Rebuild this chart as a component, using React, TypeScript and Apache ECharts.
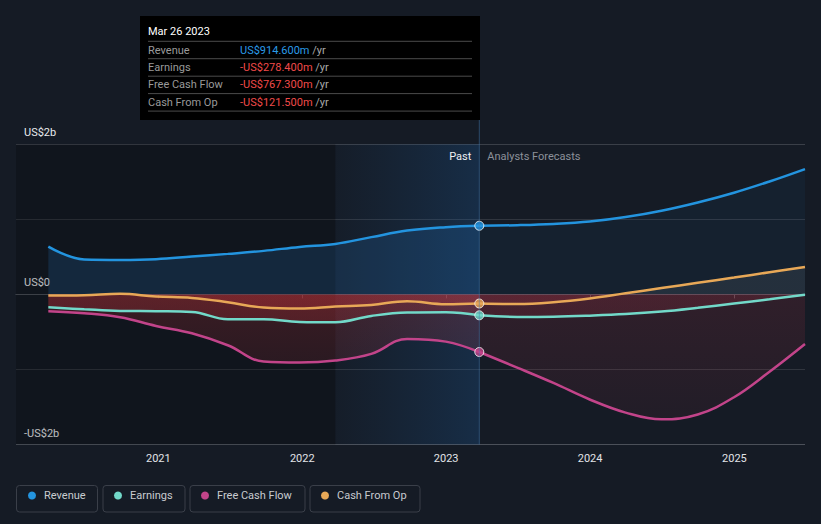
import React, { useEffect, useRef } from 'react';
import * as echarts from 'echarts';

// ---------- data (values in US$ billions) ----------
const pastDates = ['2020-03-28', '2020-06-27', '2020-09-26', '2020-12-26', '2021-03-27', '2021-06-26', '2021-09-25', '2021-12-25', '2022-03-26', '2022-06-25', '2022-09-24', '2022-12-31', '2023-03-26'];
const forecastDates = ['2023-06-30', '2023-09-30', '2023-12-31', '2024-03-31', '2024-06-30', '2024-09-30', '2024-12-31', '2025-03-31', '2025-06-29'];

const revenuePast = [0.637, 0.466, 0.46, 0.469, 0.504, 0.54, 0.58, 0.633, 0.673, 0.763, 0.85, 0.896, 0.9146];
const revenueForecast = [0.922, 0.938, 0.97, 1.03, 1.115, 1.225, 1.355, 1.505, 1.67];

const earningsPast = [-0.171, -0.198, -0.22, -0.224, -0.233, -0.331, -0.331, -0.367, -0.371, -0.287, -0.242, -0.238, -0.2784];
const earningsForecast = [-0.3, -0.297, -0.283, -0.262, -0.228, -0.178, -0.122, -0.065, -0.005];

const fcfPast = [-0.224, -0.251, -0.304, -0.42, -0.518, -0.678, -0.895, -0.909, -0.882, -0.793, -0.593, -0.629, -0.7673];
const fcfForecast = [-0.975, -1.18, -1.4, -1.575, -1.665, -1.6, -1.37, -1.03, -0.66];

const cfoPast = [-0.015, -0.011, 0.007, -0.029, -0.047, -0.104, -0.176, -0.189, -0.162, -0.14, -0.091, -0.131, -0.1215];
const cfoForecast = [-0.128, -0.105, -0.055, 0.015, 0.085, 0.155, 0.225, 0.295, 0.365];

const seriesNames = ['Revenue', 'Earnings', 'Free Cash Flow', 'Cash From Op'];
const yTickLabels: Record<string, string> = { '2': 'US$2b', '0': 'US$0', '-2': '-US$2b' };
const axisStart = '2020-01-06';
const axisEnd = '2025-06-29';
const highlightStart = '2022-03-26';
const pastEnd = '2023-03-26';
const pastLabel = 'Past';
const forecastLabel = 'Analysts Forecasts';

// ---------- styling ----------
const W = 821;
const H = 524;
const BG = '#151b25';
const FONT = 'Roboto';
const colors = {
  Revenue: '#2394df',
  Earnings: '#72d9c9',
  'Free Cash Flow': '#c2448a',
  'Cash From Op': '#e8a857',
} as Record<string, string>;
const GRID = { left: 16, right: 16, top: 144.3, bottom: 79.5 };
const zeroY = GRID.top + (H - GRID.top - GRID.bottom) / 2;
const bottomY = H - GRID.bottom;

const t = (s: string) => echarts.number.parseDate(s).getTime();

function fill(pos: string, negTop: string, negBottom: string) {
  return new echarts.graphic.LinearGradient(0, 0, 0, H, [
    { offset: 0, color: pos },
    { offset: zeroY / H, color: pos },
    { offset: zeroY / H, color: negTop },
    { offset: bottomY / H, color: negBottom },
    { offset: 1, color: negBottom },
  ], true);
}

const fmtMoney = (v: number) => (v < 0 ? '-' : '') + 'US$' + (Math.abs(v) * 1000).toFixed(3) + 'm';
const months = ['Jan', 'Feb', 'Mar', 'Apr', 'May', 'Jun', 'Jul', 'Aug', 'Sep', 'Oct', 'Nov', 'Dec'];
const fmtDate = (s: string) => {
  const d = echarts.number.parseDate(s);
  return `${months[d.getMonth()]} ${d.getDate()} ${d.getFullYear()}`;
};

export default function App() {
  const ref = useRef<HTMLDivElement>(null);

  useEffect(() => {
    document.body.style.margin = '0';
    document.body.style.background = BG;
    const chart = echarts.init(ref.current!, null, { renderer: 'svg' });

    const pastSets: Record<string, number[]> = {
      Revenue: revenuePast,
      Earnings: earningsPast,
      'Free Cash Flow': fcfPast,
      'Cash From Op': cfoPast,
    };
    const fcSets: Record<string, number[]> = {
      Revenue: revenueForecast,
      Earnings: earningsForecast,
      'Free Cash Flow': fcfForecast,
      'Cash From Op': cfoForecast,
    };

    const drawOrder = ['Revenue', 'Free Cash Flow', 'Earnings', 'Cash From Op'];
    const lineSeries: any[] = [];
    drawOrder.forEach((name) => {
      const past = pastSets[name];
      const fc = fcSets[name];
      const pastData = pastDates.map((d, i) => [d, past[i]]);
      const fcData = [[pastEnd, past[past.length - 1]]].concat(forecastDates.map((d, i) => [d, fc[i]]));
      const isRev = name === 'Revenue';
      const common = {
        type: 'line',
        name,
        smooth: 0.4,
        symbol: 'none',
        silent: true,
        z: 2,
        color: colors[name],
        lineStyle: { width: 2.5, color: colors[name] },
        emphasis: { disabled: true },
      };
      lineSeries.push({
        ...common,
        data: pastData,
        areaStyle: {
          color: isRev
            ? 'rgba(35,120,200,0.27)'
            : fill('rgba(200,205,205,0.12)', 'rgba(220,55,60,0.3)', 'rgba(215,55,65,0.05)'),
        },
      });
      lineSeries.push({
        ...common,
        data: fcData,
        areaStyle: {
          color: isRev
            ? 'rgba(35,120,200,0.09)'
            : fill('rgba(200,205,205,0.12)', 'rgba(215,55,75,0.2)', 'rgba(215,55,75,0.07)'),
        },
      });
    });

    const markerSeries = {
      type: 'scatter',
      silent: true,
      z: 5,
      symbol: 'circle',
      symbolSize: 9,
      data: seriesNames.map((name) => ({
        value: [pastEnd, pastSets[name][pastSets[name].length - 1]],
        itemStyle: { color: colors[name], borderColor: '#ffffff', borderWidth: 1 },
      })),
    };

    const regionSeries = {
      type: 'line',
      silent: true,
      z: 1,
      data: [],
      markArea: {
        silent: true,
        data: [
          [{ xAxis: t(axisStart), itemStyle: { color: 'rgba(0,0,0,0.2)' } }, { xAxis: t(highlightStart) }],
          [
            {
              xAxis: t(highlightStart),
              itemStyle: {
                color: new echarts.graphic.LinearGradient(0, 0, 1, 0, [
                  { offset: 0, color: 'rgba(30,100,170,0.03)' },
                  { offset: 1, color: 'rgba(30,110,190,0.22)' },
                ]),
              },
            },
            { xAxis: t(pastEnd) },
          ],
        ],
      },
    };

    const legendDotX = [32, 118, 205, 325];
    const legendBoxes = [
      [16, 485, 81, 26.5],
      [102.5, 485, 82, 26.5],
      [189.5, 485, 115, 26.5],
      [309.5, 485, 110, 26.5],
    ];

    chart.setOption({
      animation: false,
      backgroundColor: BG,
      textStyle: { fontFamily: FONT },
      grid: GRID,
      xAxis: {
        type: 'time',
        min: t(axisStart),
        max: t(axisEnd),
        minInterval: 365 * 24 * 3600 * 1000,
        splitNumber: 6,
        axisLine: { lineStyle: { color: '#4b5059', width: 1 } },
        axisTick: { show: true, length: 4, lineStyle: { color: '#4b5059' } },
        splitLine: { show: false },
        axisLabel: {
          color: '#e2e4e8',
          fontSize: 11,
          fontFamily: FONT,
          margin: 8,
          formatter: (v: number) => {
            const d = new Date(v);
            return d.getMonth() === 0 && d.getDate() === 1 ? String(d.getFullYear()) : '';
          },
        },
      },
      yAxis: {
        type: 'value',
        min: -2,
        max: 2,
        interval: 1,
        axisLine: { show: false },
        axisTick: { show: false },
        splitLine: {
          show: true,
          lineStyle: { color: ['#4b5059', '#30353e', '#f2f2f2', '#30353e', '#3a3f48'], width: 1 },
        },
        axisLabel: {
          inside: true,
          margin: 8,
          verticalAlign: 'bottom',
          padding: [0, 0, 6, 0],
          color: '#e8eaee',
          fontSize: 11,
          fontFamily: FONT,
          formatter: (v: number) => yTickLabels[String(v)] ?? '',
        },
      },
      legend: seriesNames.map((name, i) => ({
        data: [name],
        left: legendDotX[i] - 4,
        top: 490,
        padding: 0,
        icon: 'circle',
        itemWidth: 8,
        itemHeight: 8,
        selectedMode: false,
        textStyle: { color: '#c8cbd0', fontSize: 11, fontFamily: FONT, padding: [0, 0, 0, 3] },
      })),
      series: [regionSeries, ...lineSeries, markerSeries],
    });

    // overlays positioned from the axes
    const lineX = chart.convertToPixel({ xAxisIndex: 0 }, t(pastEnd)) as number;
    const topY = chart.convertToPixel({ yAxisIndex: 0 }, 2) as number;
    const botY = chart.convertToPixel({ yAxisIndex: 0 }, -2) as number;

    const tipX = 140, tipY = 16, tipW = 340, tipH = 104;
    const rowLines = [41.3, 58.7, 76.2, 93.6, 111.1];
    const rowMid = [50, 67.4, 84.9, 102.3];
    const rows = seriesNames.map((name) => {
      const v = pastSets[name][pastSets[name].length - 1];
      return { name, text: fmtMoney(v), pos: v >= 0 };
    });

    const graphic: any[] = [
      {
        type: 'line',
        silent: true,
        z: 10,
        shape: { x1: lineX, y1: tipY + tipH, x2: lineX, y2: botY },
        style: { stroke: 'rgba(70,130,190,0.45)', lineWidth: 1 },
      },
      {
        type: 'text',
        silent: true,
        z: 10,
        x: lineX - 8,
        y: topY + 12,
        style: { text: pastLabel, fill: '#eef0f3', font: `11px ${FONT}`, align: 'right', verticalAlign: 'middle' },
      },
      {
        type: 'text',
        silent: true,
        z: 10,
        x: lineX + 8,
        y: topY + 12,
        style: { text: forecastLabel, fill: '#8c919a', font: `11px ${FONT}`, align: 'left', verticalAlign: 'middle' },
      },
      {
        type: 'rect',
        silent: true,
        z: 20,
        shape: { x: tipX, y: tipY, width: tipW, height: tipH },
        style: { fill: '#000000' },
      },
      {
        type: 'text',
        silent: true,
        z: 21,
        x: 148,
        y: 31.5,
        style: { text: fmtDate(pastEnd), fill: '#ffffff', font: `11px ${FONT}`, verticalAlign: 'middle' },
      },
      ...rowLines.map((y) => ({
        type: 'line',
        silent: true,
        z: 21,
        shape: { x1: 148, y1: y, x2: 472, y2: y },
        style: { stroke: '#4a4a4a', lineWidth: 1 },
      })),
      ...rows.map((r, i) => ({
        type: 'text',
        silent: true,
        z: 21,
        x: 148,
        y: rowMid[i],
        style: { text: r.name, fill: '#9a9a9a', font: `11px ${FONT}`, verticalAlign: 'middle' },
      })),
      ...rows.map((r, i) => ({
        type: 'text',
        silent: true,
        z: 21,
        x: 240,
        y: rowMid[i],
        style: {
          text: `{v|${r.text}} {u|/yr}`,
          verticalAlign: 'middle',
          font: `11px ${FONT}`,
          rich: {
            v: { fill: r.pos ? '#2a9be8' : '#f04a4a', font: `11px ${FONT}` },
            u: { fill: '#a8a8a8', font: `11px ${FONT}` },
          },
        },
      })),
      ...legendBoxes.map(([x, y, w, h]) => ({
        type: 'rect',
        silent: true,
        z: 0,
        shape: { x: x + 0.5, y: y + 0.5, width: w, height: h, r: 3 },
        style: { fill: 'none', stroke: '#3a3f49', lineWidth: 1 },
      })),
    ];
    chart.setOption({ graphic });

    return () => chart.dispose();
  }, []);

  return <div ref={ref} style={{ position: 'absolute', left: 0, top: 0, width: W, height: H }} />;
}
